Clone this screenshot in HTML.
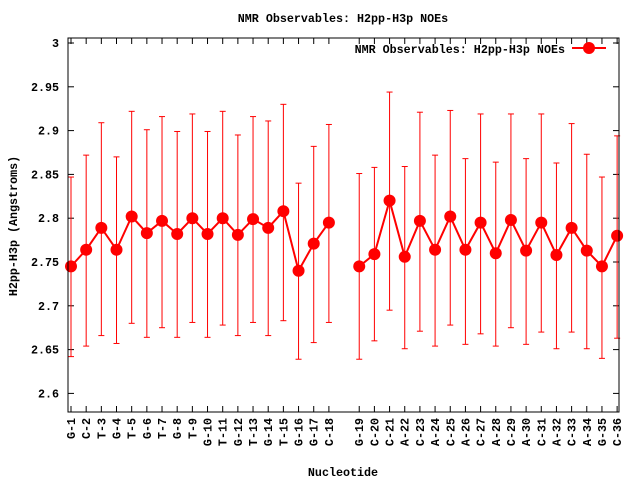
<!DOCTYPE html>
<html><head><meta charset="utf-8"><style>
body{margin:0;background:#fff}
svg text{font-family:"Liberation Mono",monospace;font-weight:bold;font-size:11.7px;fill:#000}
</style></head><body>
<svg id="chart" width="640" height="480" xmlns="http://www.w3.org/2000/svg">
<rect width="640" height="480" fill="#fff"/>
<text x="343" y="22" text-anchor="middle">NMR Observables: H2pp-H3p NOEs</text>
<text transform="translate(17,226) rotate(-90)" text-anchor="middle">H2pp-H3p (Angstroms)</text>
<text x="343" y="476" text-anchor="middle">Nucleotide</text>
<g id="grid"></g>
<g id="marks"></g>
<rect x="68" y="38" width="551" height="374" fill="none" stroke="#000" stroke-width="1"/>
<text x="565" y="53" text-anchor="end">NMR Observables: H2pp-H3p NOEs</text>
<line x1="572" y1="48" x2="606" y2="48" stroke="#f00" stroke-width="2"/>
<circle cx="589" cy="48" r="6" fill="#f00"/>
</svg>
<script>
const labels=["G-1","C-2","T-3","G-4","T-5","G-6","T-7","G-8","T-9","G-10","T-11","G-12","T-13","G-14","T-15","G-16","G-17","C-18","G-19","C-20","C-21","A-22","C-23","A-24","C-25","A-26","C-27","A-28","C-29","A-30","C-31","A-32","C-33","A-34","G-35","C-36"];
const positions=[1,2,3,4,5,6,7,8,9,10,11,12,13,14,15,16,17,18,20,21,22,23,24,25,26,27,28,29,30,31,32,33,34,35,36,37];
const means=[2.745,2.764,2.789,2.764,2.802,2.783,2.797,2.782,2.800,2.782,2.800,2.781,2.799,2.789,2.808,2.740,2.771,2.795,2.745,2.759,2.820,2.756,2.797,2.764,2.802,2.764,2.795,2.760,2.798,2.763,2.795,2.758,2.789,2.763,2.745,2.780];
const highs=[2.847,2.872,2.909,2.870,2.922,2.901,2.916,2.899,2.919,2.899,2.922,2.895,2.916,2.911,2.930,2.840,2.882,2.907,2.851,2.858,2.944,2.859,2.921,2.872,2.923,2.868,2.919,2.864,2.919,2.868,2.919,2.863,2.908,2.873,2.847,2.894];
const lows=[2.642,2.654,2.666,2.657,2.680,2.664,2.675,2.664,2.681,2.664,2.678,2.666,2.681,2.666,2.683,2.639,2.658,2.681,2.639,2.660,2.695,2.651,2.671,2.654,2.678,2.656,2.668,2.654,2.675,2.656,2.670,2.651,2.670,2.651,2.640,2.663];
const yTicks=[2.6,2.65,2.7,2.75,2.8,2.85,2.9,2.95,3];
const yTickLabels=["2.6","2.65","2.7","2.75","2.8","2.85","2.9","2.95","3"];
const NS="http://www.w3.org/2000/svg";
function xs(p){return 71+(p-1)*15.17;}
function ys(v){return 43+(3-v)*876;}
function mk(t,a,parent){const e=document.createElementNS(NS,t);for(const k in a)e.setAttribute(k,a[k]);parent.appendChild(e);return e;}
const grid=document.getElementById('grid'),marks=document.getElementById('marks');
yTicks.forEach((v,i)=>{const y=ys(v);
 let t=mk('line',{x1:68,x2:74,y1:y,y2:y,stroke:'#000'},grid);
 
 
 let t2=mk('line',{x1:613,x2:619,y1:y,y2:y,stroke:'#000'},grid);
 
 
 let l=mk('text',{x:59,y:y+4,'text-anchor':'end'},grid);l.textContent=yTickLabels[i];
 
 
});
labels.forEach((lab,i)=>{const x=xs(positions[i]);
 let t=mk('line',{x1:x,x2:x,y1:406,y2:412,stroke:'#000'},grid);
 
 
 let t2=mk('line',{x1:x,x2:x,y1:38,y2:44,stroke:'#000'},grid);
 
 
 let l=mk('text',{transform:`translate(${x+4},418) rotate(-90)`,'text-anchor':'end'},grid);l.textContent=lab;
 
 
});
labels.forEach((lab,i)=>{const x=xs(positions[i]),yh=ys(highs[i]),yl=ys(lows[i]);
 const g=mk('g',{stroke:'#f00','stroke-width':1},marks);
 
 
 mk('line',{x1:x,x2:x,y1:yh,y2:yl},g);
 mk('line',{x1:x-3,x2:x+3,y1:yh,y2:yh},g);
 mk('line',{x1:x-3,x2:x+3,y1:yl,y2:yl},g);
});
let segs=[],cur=[];
positions.forEach((p,i)=>{if(i>0&&p-positions[i-1]>1){segs.push(cur);cur=[];}cur.push(xs(p)+','+ys(means[i]));});
segs.push(cur);
segs.forEach(s=>{const pl=mk('polyline',{points:s.join(' '),fill:'none',stroke:'#f00','stroke-width':2},marks);
 
 
});
means.forEach((m,i)=>{const c=mk('circle',{cx:xs(positions[i]),cy:ys(m),r:6,fill:'#f00'},marks);
 
 
});
</script>
</body></html>
